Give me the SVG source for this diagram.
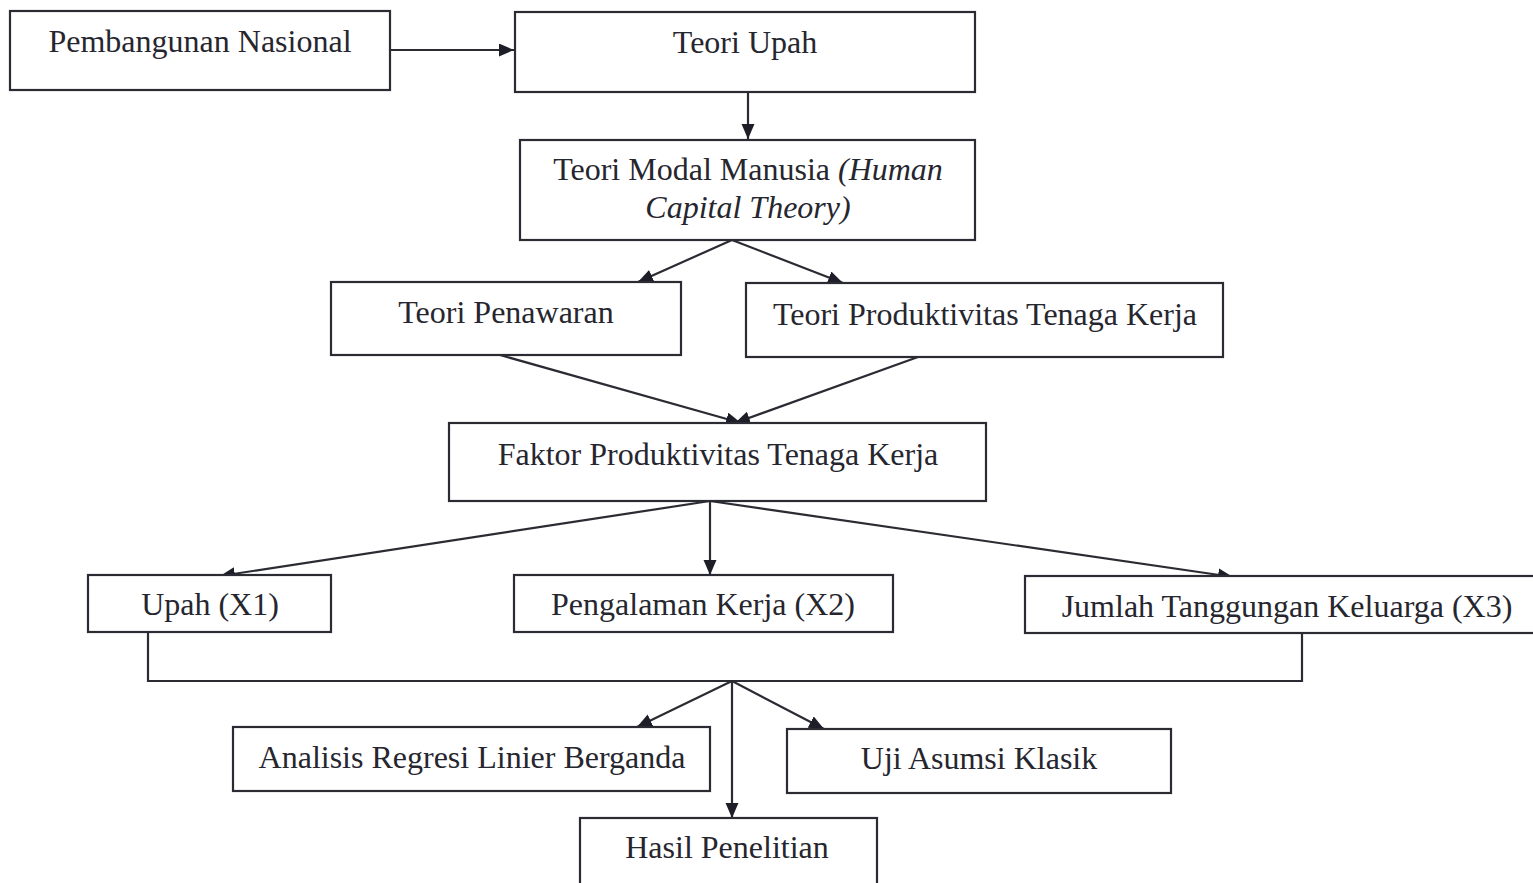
<svg xmlns="http://www.w3.org/2000/svg" width="1533" height="883" viewBox="0 0 1533 883">
<style>
.box{fill:#fff;stroke:#2b2b33;stroke-width:2.2}
.t{font-family:"Liberation Serif","Times New Roman",serif;font-size:32px;fill:#26262f;text-anchor:middle}
.c{stroke:#2b2b33;stroke-width:2.2;fill:none}
</style>
<defs>
<marker id="ah" markerUnits="userSpaceOnUse" markerWidth="18" markerHeight="14" refX="15" refY="6.5" orient="auto">
<path d="M0,0 L15,6.5 L0,13 Z" fill="#1e1e28"/>
</marker>
</defs>
<rect width="1533" height="883" fill="#fff"/>
<g id="connectors">
<line class="c" x1="390" y1="50" x2="514" y2="50" marker-end="url(#ah)"/>
<line class="c" x1="748" y1="92" x2="748" y2="139" marker-end="url(#ah)"/>
<line class="c" x1="732" y1="240" x2="638" y2="282" marker-end="url(#ah)"/>
<line class="c" x1="732" y1="240" x2="843" y2="283" marker-end="url(#ah)"/>
<line class="c" x1="500" y1="355" x2="741" y2="423" marker-end="url(#ah)"/>
<line class="c" x1="918" y1="357" x2="735" y2="423" marker-end="url(#ah)"/>
<line class="c" x1="710" y1="501" x2="220" y2="576" marker-end="url(#ah)"/>
<line class="c" x1="710" y1="501" x2="710" y2="575" marker-end="url(#ah)"/>
<line class="c" x1="710" y1="501" x2="1233" y2="577" marker-end="url(#ah)"/>
<polyline class="c" points="148,632 148,681 1302,681 1302,633"/>
<line class="c" x1="732" y1="681" x2="637" y2="727" marker-end="url(#ah)"/>
<line class="c" x1="732" y1="681" x2="824" y2="729" marker-end="url(#ah)"/>
<line class="c" x1="732" y1="681" x2="732" y2="818" marker-end="url(#ah)"/>
</g>
<g id="n1"><rect class="box" x="10" y="11" width="380" height="79"/><text class="t" x="200" y="52">Pembangunan Nasional</text></g>
<g id="n2"><rect class="box" x="515" y="12" width="460" height="80"/><text class="t" x="745" y="53">Teori Upah</text></g>
<g id="n3"><rect class="box" x="520" y="140" width="455" height="100"/><text class="t" x="748" y="180">Teori Modal Manusia <tspan font-style="italic">(Human</tspan></text><text class="t" x="748" y="218" font-style="italic">Capital Theory)</text></g>
<g id="n4"><rect class="box" x="331" y="282" width="350" height="73"/><text class="t" x="506" y="323">Teori Penawaran</text></g>
<g id="n5"><rect class="box" x="746" y="283" width="477" height="74"/><text class="t" x="985" y="325">Teori Produktivitas Tenaga Kerja</text></g>
<g id="n6"><rect class="box" x="449" y="423" width="537" height="78"/><text class="t" x="718" y="465">Faktor Produktivitas Tenaga Kerja</text></g>
<g id="n7"><rect class="box" x="88" y="575" width="243" height="57"/><text class="t" x="210" y="615">Upah (X1)</text></g>
<g id="n8"><rect class="box" x="514" y="575" width="379" height="57"/><text class="t" x="703" y="615">Pengalaman Kerja (X2)</text></g>
<g id="n9"><rect class="box" x="1025" y="576" width="520" height="57"/><text class="t" x="1287" y="617">Jumlah Tanggungan Keluarga (X3)</text></g>
<g id="n10"><rect class="box" x="233" y="727" width="477" height="64"/><text class="t" x="472" y="768">Analisis Regresi Linier Berganda</text></g>
<g id="n11"><rect class="box" x="787" y="729" width="384" height="64"/><text class="t" x="979" y="769">Uji Asumsi Klasik</text></g>
<g id="n12"><rect class="box" x="580" y="818" width="297" height="80"/><text class="t" x="727" y="858">Hasil Penelitian</text></g>
</svg>
